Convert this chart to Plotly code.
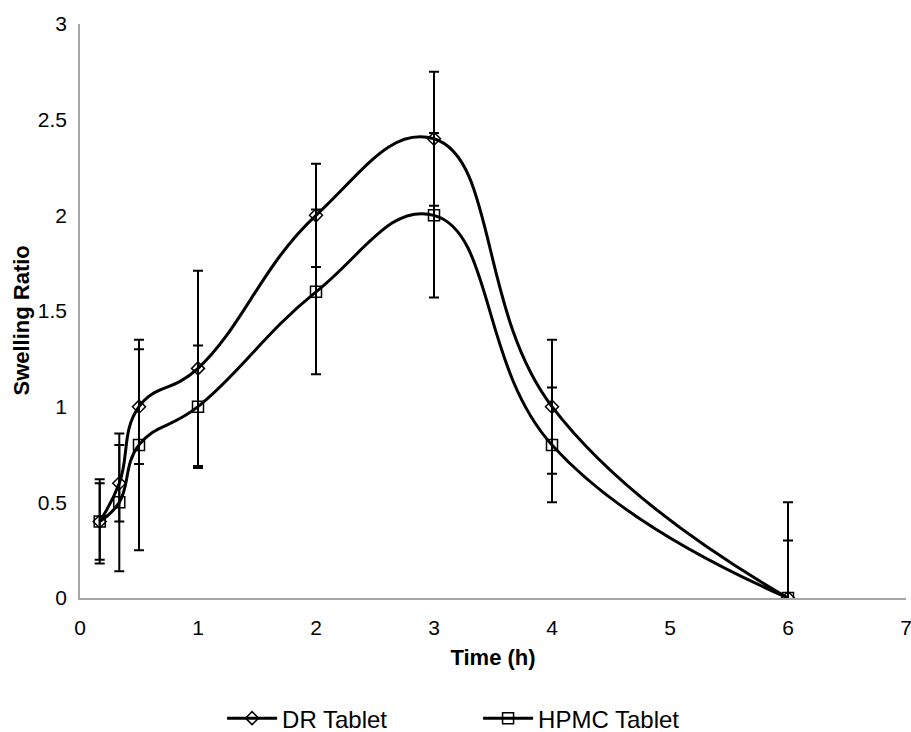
import plotly.graph_objects as go

time_h = [0.167, 0.333, 0.5, 1, 2, 3, 4, 6]
dr_tablet = [0.4, 0.6, 1.0, 1.2, 2.0, 2.4, 1.0, 0.0]
dr_err = [0.22, 0.2, 0.3, 0.51, 0.27, 0.35, 0.35, 0.5]
hpmc_tablet = [0.4, 0.5, 0.8, 1.0, 1.6, 2.0, 0.8, 0.0]
hpmc_err = [0.2, 0.36, 0.55, 0.32, 0.43, 0.43, 0.3, 0.3]

x_ticks = [0, 1, 2, 3, 4, 5, 6, 7]
y_ticks = [0, 0.5, 1, 1.5, 2, 2.5, 3]
y_tick_text = ["0", "0.5", "1", "1.5", "2", "2.5", "3"]

FONT = "Liberation Sans, Arial, sans-serif"

fig = go.Figure()
fig.add_trace(go.Scatter(
    x=time_h, y=dr_tablet, name="DR Tablet", mode="lines+markers",
    line=dict(color="black", width=3, shape="spline", smoothing=1.25),
    marker=dict(symbol="diamond-open", size=10, color="black", line=dict(width=1.5, color="black")),
    error_y=dict(type="data", array=dr_err, symmetric=True, color="black", thickness=2, width=5),
))
fig.add_trace(go.Scatter(
    x=time_h, y=hpmc_tablet, name="HPMC Tablet", mode="lines+markers",
    line=dict(color="black", width=3, shape="spline", smoothing=1.25),
    marker=dict(symbol="square-open", size=11, color="black", line=dict(width=1.5, color="black")),
    error_y=dict(type="data", array=hpmc_err, symmetric=True, color="black", thickness=2, width=5),
))

fig.update_layout(
    width=911, height=732,
    margin=dict(l=80, r=5, t=24, b=134, autoexpand=False),
    paper_bgcolor="white", plot_bgcolor="white",
    font=dict(family=FONT, size=21, color="black"),
    showlegend=True,
    legend=dict(orientation="h", x=0.172, xanchor="left",
                y=-0.21, yanchor="middle",
                font=dict(size=24), itemwidth=50, entrywidth=191,
                traceorder="normal"),
    xaxis=dict(range=[0, 7], tickvals=x_ticks, showgrid=False, zeroline=False,
               showline=True, linecolor="#a6a6a6", linewidth=1.5,
               ticks="", tickfont=dict(size=21), ticklabelstandoff=10,
               ticklabeloverflow="allow",
               title=dict(text="<b>Time (h)</b>", font=dict(size=22), standoff=12)),
    yaxis=dict(range=[0, 3], tickvals=y_ticks, ticktext=y_tick_text, showgrid=False, zeroline=False,
               showline=True, linecolor="#a6a6a6", linewidth=1.5,
               ticks="", tickfont=dict(size=21), ticklabelstandoff=7),
    annotations=[dict(text="<b>Swelling Ratio</b>", textangle=-90, xref="paper", yref="paper",
                      x=-0.071, y=0.484, xanchor="center", yanchor="middle", showarrow=False,
                      font=dict(size=22, family=FONT), bgcolor="white")],
)

fig.write_html("out.html")
